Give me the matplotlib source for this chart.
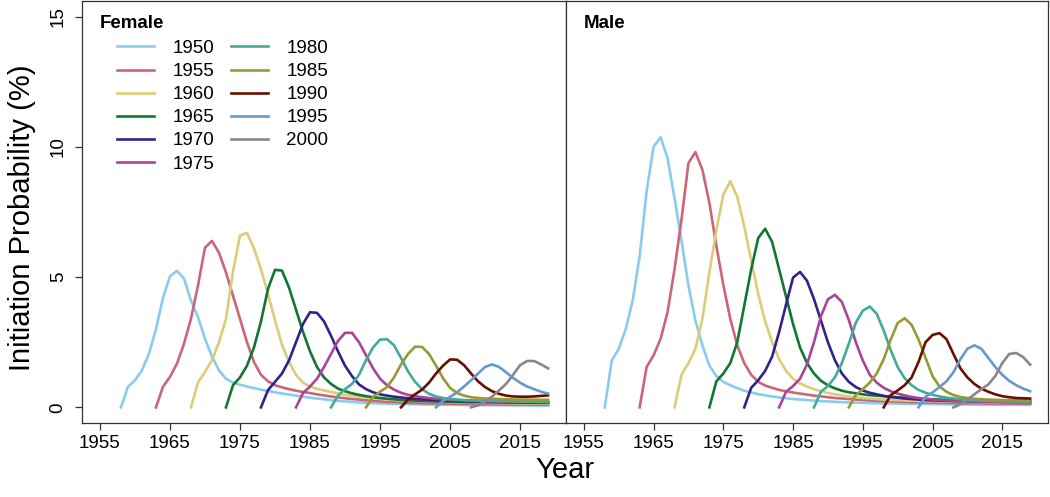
import matplotlib
matplotlib.use('Agg')
import matplotlib.pyplot as plt
import numpy as np

plt.rcParams['font.family'] = ['Liberation Sans', 'DejaVu Sans']

cohorts = [1950, 1955, 1960, 1965, 1970, 1975, 1980, 1985, 1990, 1995, 2000]
colors = ['#88CCEE', '#CC6677', '#DDCC77', '#117733', '#332288', '#AA4499',
          '#44AA99', '#999933', '#661100', '#6699CC', '#888888']
start_age = 8   # each series begins at birth year + 8 and runs to 2019

# Female initiation probability (%), one value per calendar year
f1950 = [0, 0.79, 1.04, 1.42, 2.06, 3.0, 4.2, 5.03, 5.24, 4.95,
         4.1, 3.47, 2.63, 1.95, 1.42, 1.1, 0.95, 0.87, 0.8, 0.74,
         0.68, 0.63, 0.58, 0.53, 0.49, 0.45, 0.41, 0.37, 0.34, 0.31,
         0.28, 0.25, 0.23, 0.21, 0.19, 0.17, 0.16, 0.15, 0.14, 0.135,
         0.13, 0.125, 0.12, 0.115, 0.11, 0.105, 0.1, 0.1, 0.095, 0.09,
         0.09, 0.085, 0.085, 0.08, 0.08, 0.08, 0.075, 0.075, 0.075, 0.07,
         0.07, 0.07]
f1955 = [0, 0.79, 1.17, 1.68, 2.44, 3.4, 4.67, 6.13, 6.39, 5.94,
         5.18, 4.29, 3.4, 2.5, 1.74, 1.25, 1.0, 0.85, 0.77, 0.7,
         0.64, 0.59, 0.55, 0.5, 0.46, 0.42, 0.38, 0.35, 0.32, 0.3,
         0.27, 0.25, 0.23, 0.21, 0.2, 0.19, 0.18, 0.17, 0.16, 0.155,
         0.15, 0.145, 0.14, 0.135, 0.13, 0.13, 0.125, 0.12, 0.12, 0.115,
         0.115, 0.11, 0.11, 0.11, 0.105, 0.105, 0.1]
f1960 = [0, 0.95, 1.36, 1.81, 2.5, 3.4, 5.2, 6.6, 6.7, 6.1,
         5.3, 4.35, 3.35, 2.4, 1.75, 1.25, 0.95, 0.8, 0.71, 0.65,
         0.59, 0.53, 0.48, 0.45, 0.41, 0.38, 0.35, 0.33, 0.31, 0.29,
         0.27, 0.26, 0.25, 0.24, 0.23, 0.22, 0.21, 0.2, 0.195, 0.19,
         0.185, 0.18, 0.175, 0.17, 0.17, 0.165, 0.16, 0.16, 0.155, 0.155,
         0.15, 0.15]
f1965 = [0, 0.85, 1.15, 1.6, 2.3, 3.3, 4.55, 5.28, 5.25, 4.6,
         3.75, 2.9, 2.15, 1.55, 1.15, 0.9, 0.72, 0.62, 0.54, 0.48,
         0.43, 0.39, 0.36, 0.33, 0.31, 0.29, 0.27, 0.26, 0.25, 0.24,
         0.23, 0.22, 0.215, 0.21, 0.205, 0.2, 0.2, 0.195, 0.19, 0.19,
         0.185, 0.185, 0.18, 0.18, 0.18, 0.175, 0.175]
f1970 = [0, 0.66, 0.98, 1.3, 1.8, 2.5, 3.2, 3.65, 3.63, 3.3,
         2.75, 2.15, 1.6, 1.2, 0.88, 0.7, 0.58, 0.5, 0.45, 0.41,
         0.38, 0.35, 0.33, 0.31, 0.29, 0.28, 0.27, 0.26, 0.25, 0.24,
         0.235, 0.23, 0.225, 0.22, 0.215, 0.21, 0.21, 0.205, 0.2, 0.2,
         0.2, 0.195]
f1975 = [0, 0.55, 0.8, 1.1, 1.55, 2.05, 2.55, 2.86, 2.86, 2.5,
         2.0, 1.5, 1.1, 0.85, 0.68, 0.56, 0.48, 0.43, 0.39, 0.36,
         0.33, 0.31, 0.29, 0.28, 0.27, 0.26, 0.25, 0.24, 0.235, 0.23,
         0.225, 0.22, 0.215, 0.21, 0.21, 0.205, 0.2]
f1980 = [0, 0.45, 0.7, 0.9, 1.25, 1.81, 2.3, 2.6, 2.62, 2.38,
         1.9, 1.38, 0.98, 0.7, 0.52, 0.42, 0.36, 0.32, 0.3, 0.28,
         0.27, 0.26, 0.25, 0.245, 0.24, 0.235, 0.23, 0.225, 0.22, 0.22,
         0.215, 0.21]
f1985 = [0, 0.4, 0.6, 0.78, 1.15, 1.65, 2.05, 2.33, 2.32, 2.05,
         1.6, 1.12, 0.75, 0.55, 0.45, 0.39, 0.36, 0.34, 0.33, 0.32,
         0.31, 0.305, 0.3, 0.3, 0.295, 0.29, 0.29]
f1990 = [0, 0.3, 0.5, 0.68, 0.95, 1.3, 1.6, 1.84, 1.83, 1.62,
         1.3, 1.0, 0.78, 0.62, 0.52, 0.45, 0.42, 0.41, 0.41, 0.42,
         0.44, 0.46]
f1995 = [0, 0.25, 0.4, 0.58, 0.8, 1.04, 1.3, 1.55, 1.65, 1.55,
         1.35, 1.13, 0.95, 0.8, 0.7, 0.6, 0.53]
f2000 = [0, 0.08, 0.22, 0.42, 0.65, 0.9, 1.25, 1.62, 1.78, 1.78,
         1.65, 1.5]

# Male
m1950 = [0, 1.8, 2.25, 3.0, 4.1, 5.8, 8.3, 10.0, 10.37, 9.57,
         8.04, 6.4, 4.67, 3.33, 2.38, 1.6, 1.2, 0.98, 0.85, 0.74,
         0.64, 0.57, 0.51, 0.46, 0.42, 0.38, 0.35, 0.32, 0.3, 0.28,
         0.26, 0.24, 0.23, 0.215, 0.2, 0.19, 0.18, 0.17, 0.165, 0.16,
         0.155, 0.15, 0.145, 0.14, 0.135, 0.13, 0.13, 0.125, 0.12, 0.12,
         0.115, 0.115, 0.11, 0.11, 0.105, 0.105, 0.1, 0.1, 0.1, 0.1,
         0.095, 0.095]
m1955 = [0, 1.55, 2.0, 2.63, 3.65, 5.3, 7.2, 9.38, 9.8, 9.12,
         7.85, 6.2, 4.7, 3.4, 2.38, 1.7, 1.25, 0.98, 0.84, 0.75,
         0.67, 0.62, 0.57, 0.53, 0.49, 0.45, 0.42, 0.39, 0.36, 0.34,
         0.32, 0.3, 0.28, 0.265, 0.25, 0.24, 0.23, 0.22, 0.21, 0.2,
         0.195, 0.19, 0.185, 0.18, 0.175, 0.17, 0.165, 0.16, 0.16, 0.155,
         0.15, 0.15, 0.145, 0.145, 0.14, 0.14, 0.14]
m1960 = [0, 1.25, 1.7, 2.25, 3.4, 5.18, 6.8, 8.17, 8.68, 8.08,
         6.95, 5.65, 4.35, 3.3, 2.5, 1.85, 1.4, 1.1, 0.92, 0.8,
         0.7, 0.62, 0.55, 0.5, 0.46, 0.42, 0.39, 0.36, 0.34, 0.32,
         0.3, 0.29, 0.28, 0.27, 0.26, 0.25, 0.245, 0.24, 0.235, 0.23,
         0.225, 0.22, 0.215, 0.21, 0.21, 0.205, 0.2, 0.2, 0.2, 0.195,
         0.195, 0.19]
m1965 = [0, 1.0, 1.3, 1.7, 2.5, 3.9, 5.3, 6.5, 6.86, 6.35,
         5.3, 4.25, 3.2, 2.3, 1.7, 1.3, 1.02, 0.85, 0.73, 0.64,
         0.58, 0.54, 0.5, 0.47, 0.45, 0.43, 0.41, 0.39, 0.37, 0.35,
         0.34, 0.32, 0.31, 0.3, 0.29, 0.28, 0.275, 0.27, 0.265, 0.26,
         0.255, 0.25, 0.25, 0.245, 0.245, 0.24, 0.24]
m1970 = [0, 0.75, 1.04, 1.4, 1.95, 2.89, 3.95, 4.98, 5.2, 4.86,
         4.16, 3.33, 2.5, 1.81, 1.3, 0.98, 0.78, 0.65, 0.56, 0.5,
         0.44, 0.4, 0.37, 0.34, 0.32, 0.3, 0.28, 0.27, 0.26, 0.25,
         0.245, 0.24, 0.235, 0.23, 0.225, 0.22, 0.22, 0.215, 0.215, 0.21,
         0.21, 0.205]
m1975 = [0, 0.6, 0.82, 1.1, 1.65, 2.5, 3.5, 4.15, 4.32, 4.05,
         3.35, 2.5, 1.8, 1.25, 0.95, 0.75, 0.62, 0.53, 0.46, 0.4,
         0.36, 0.33, 0.3, 0.28, 0.265, 0.25, 0.24, 0.23, 0.225, 0.22,
         0.215, 0.21, 0.205, 0.2, 0.2, 0.195, 0.195]
m1980 = [0, 0.6, 0.82, 1.15, 1.7, 2.45, 3.25, 3.71, 3.87, 3.59,
         2.95, 2.2, 1.55, 1.12, 0.85, 0.67, 0.56, 0.48, 0.42, 0.37,
         0.34, 0.31, 0.29, 0.27, 0.26, 0.25, 0.24, 0.235, 0.23, 0.225,
         0.22, 0.215]
m1985 = [0, 0.47, 0.7, 0.95, 1.3, 1.85, 2.6, 3.24, 3.42, 3.17,
         2.6, 1.9, 1.2, 0.8, 0.6, 0.47, 0.4, 0.36, 0.33, 0.31,
         0.3, 0.29, 0.28, 0.275, 0.27, 0.27, 0.265]
m1990 = [0, 0.47, 0.65, 0.85, 1.15, 1.75, 2.5, 2.78, 2.85, 2.62,
         2.05, 1.5, 1.15, 0.9, 0.72, 0.6, 0.5, 0.43, 0.39, 0.36,
         0.35, 0.34]
m1995 = [0, 0.41, 0.57, 0.78, 1.0, 1.35, 1.85, 2.25, 2.38, 2.25,
         1.9, 1.55, 1.25, 1.02, 0.85, 0.72, 0.62]
m2000 = [0, 0.12, 0.3, 0.5, 0.7, 0.88, 1.2, 1.7, 2.05, 2.09,
         1.93, 1.64]

female = [f1950, f1955, f1960, f1965, f1970, f1975, f1980, f1985, f1990, f1995, f2000]
male = [m1950, m1955, m1960, m1965, m1970, m1975, m1980, m1985, m1990, m1995, m2000]

xticks = [1955, 1965, 1975, 1985, 1995, 2005, 2015]
yticks = [0, 5, 10, 15]

W, H = 1050, 497
fig = plt.figure(figsize=(W/100., H/100.), dpi=100)
axF = fig.add_axes([82./W, 1-423./H, 484./W, 422./H])
axM = fig.add_axes([566./W, 1-423./H, 482./W, 422./H], sharey=axF)

for ax, series, title in [(axF, female, 'Female'), (axM, male, 'Male')]:
    for c, col, vals in zip(cohorts, colors, series):
        years = np.arange(c+start_age, c+start_age+len(vals))
        ax.plot(years, vals, color=col, lw=1.9, label=str(c), solid_joinstyle='round')
    # R style 4% padding around 1955-2019
    ax.set_xlim(1955-0.04*64, 2019+0.04*64)
    ax.set_xticks(xticks)
    ax.set_xticklabels([str(x) for x in xticks])
    ax.tick_params(axis='both', direction='out', length=5, width=0.9,
                   labelsize=13.5, color='#333333', pad=4)
    for s in ax.spines.values():
        s.set_linewidth(0.9)
        s.set_color('#333333')
    ax.text(0.037, 0.946, title, transform=ax.transAxes, fontweight='bold',
            fontsize=13.5, ha='left', va='center')

axF.set_ylim(-0.6, 15.6)
axF.set_yticks(yticks)
axF.set_yticklabels([str(y) for y in yticks], rotation=90, va='center')
axF.tick_params(axis='y', pad=6)
axM.tick_params(axis='y', left=False, labelleft=False)

axF.legend(ncol=2, frameon=False, loc='upper left', bbox_to_anchor=(0.072, 0.908),
           fontsize=13.5, handlelength=2.0, handletextpad=0.96, columnspacing=0.9,
           labelspacing=0.32, borderpad=0, borderaxespad=0)

fig.text(22./W, 1-218./H, 'Initiation Probability (%)', rotation=90,
         ha='center', va='center', fontsize=21)
fig.text(565./W, 1-470./H, 'Year', ha='center', va='center', fontsize=21)

plt.savefig('out.png', dpi=100)
plt.close(fig)
